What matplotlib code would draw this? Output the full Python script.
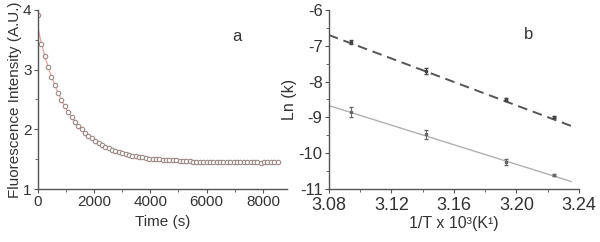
import matplotlib
matplotlib.use("Agg")
import matplotlib.pyplot as plt
from matplotlib.ticker import MultipleLocator

plt.rcParams['font.family'] = ['Liberation Sans', 'DejaVu Sans']
plt.rcParams['axes.unicode_minus'] = False

# ---- Panel a data ----
time_s = [0, 120, 240, 360, 480, 600, 720, 840, 960, 1080, 1200, 1320, 1440, 1560,
          1680, 1800, 1920, 2040, 2160, 2280, 2400, 2520, 2640, 2760, 2880, 3000,
          3120, 3240, 3360, 3480, 3600, 3720, 3840, 3960, 4080, 4200, 4320, 4440,
          4560, 4680, 4800, 4920, 5040, 5160, 5280, 5400, 5520, 5640, 5760, 5880,
          6000, 6120, 6240, 6360, 6480, 6600, 6720, 6840, 6960, 7080, 7200, 7320,
          7440, 7560, 7680, 7800, 7920, 8040, 8160, 8280, 8400, 8520]
intensity = [3.92, 3.43, 3.22, 3.04, 2.88, 2.74, 2.60, 2.49, 2.39, 2.29, 2.21, 2.13,
             2.06, 2.00, 1.94, 1.89, 1.85, 1.81, 1.77, 1.74, 1.71, 1.68, 1.66, 1.64,
             1.62, 1.60, 1.59, 1.57, 1.56, 1.55, 1.54, 1.53, 1.52, 1.51, 1.51, 1.50,
             1.50, 1.49, 1.49, 1.48, 1.48, 1.48, 1.47, 1.47, 1.47, 1.47, 1.46, 1.46,
             1.46, 1.46, 1.46, 1.45, 1.46, 1.45, 1.45, 1.45, 1.45, 1.45, 1.45, 1.45,
             1.45, 1.45, 1.46, 1.45, 1.45, 1.45, 1.44, 1.45, 1.45, 1.45, 1.45, 1.45]
fit_intensity = [3.70, 3.46, 3.24, 3.05, 2.89, 2.75, 2.61, 2.49, 2.39, 2.29, 2.21, 2.13,
                 2.06, 2.00, 1.94, 1.89, 1.85, 1.81, 1.77, 1.74, 1.71, 1.68, 1.66, 1.64,
                 1.62, 1.60, 1.59, 1.57, 1.56, 1.55, 1.54, 1.53, 1.52, 1.51, 1.51, 1.50,
                 1.50, 1.49, 1.49, 1.48, 1.48, 1.48, 1.47, 1.47, 1.47, 1.47, 1.46, 1.46,
                 1.46, 1.46, 1.46, 1.46, 1.46, 1.46, 1.45, 1.45, 1.45, 1.45, 1.45, 1.45,
                 1.45, 1.45, 1.45, 1.45, 1.45, 1.45, 1.45, 1.45, 1.45, 1.45, 1.45, 1.45]

# ---- Panel b data ----
inv_T = [3.094, 3.142, 3.193, 3.224]
ln_k_upper = [-6.89, -7.71, -8.50, -8.99]
ln_k_upper_err = [0.06, 0.08, 0.05, 0.04]
ln_k_lower = [-8.85, -9.47, -10.25, -10.61]
ln_k_lower_err = [0.14, 0.12, 0.09, 0.03]
fit_x = [3.08, 3.235]
fit_upper = [-6.70, -9.24]
fit_lower = [-8.67, -10.79]
xticks_b = [3.08, 3.12, 3.16, 3.20, 3.24]
xticklabels_b = ['3.08', '3.12', '3.16', '3.20', '3.24']

axis_col = '#555555'
text_col = '#333333'

fig = plt.figure(figsize=(6.0, 2.42), dpi=100)
ax1 = fig.add_axes([0.063, 0.219, 0.415, 0.740])
ax2 = fig.add_axes([0.548, 0.219, 0.417, 0.740])

for ax in (ax1, ax2):
    for s in ('top', 'right'):
        ax.spines[s].set_visible(False)
    for s in ('left', 'bottom'):
        ax.spines[s].set_color(axis_col)
        ax.spines[s].set_linewidth(1.0)
    ax.tick_params(which='major', direction='out', length=3, width=0.8,
                   colors=axis_col, labelcolor=text_col, pad=1.5)
    ax.tick_params(which='minor', direction='out', length=2, width=0.6, colors=axis_col)

# Panel a
ax1.plot(time_s, fit_intensity, color='#e8a3a0', lw=0.9, zorder=1)
ax1.plot(time_s, intensity, linestyle='none', marker='o', markersize=3.2,
         markerfacecolor='white', markeredgecolor='#9c8784', markeredgewidth=0.8, zorder=2)
ax1.set_xlim(0, 8850)
ax1.set_ylim(1, 4)
ax1.xaxis.set_major_locator(MultipleLocator(2000))
ax1.xaxis.set_minor_locator(MultipleLocator(1000))
ax1.yaxis.set_major_locator(MultipleLocator(1))
ax1.yaxis.set_minor_locator(MultipleLocator(0.5))
ax1.tick_params(axis='both', which='major', labelsize=11)
ax1.set_xlabel('Time (s)', fontsize=11, color=text_col, labelpad=4)
ax1.set_ylabel('Fluorescence Intensity (A.U.)', fontsize=11, color=text_col, labelpad=1)
ax1.text(0.80, 0.85, 'a', transform=ax1.transAxes, fontsize=12, color=text_col,
         ha='center', va='center')

# Panel b
ax2.plot(fit_x, fit_upper, color='#555555', lw=1.4, linestyle=(0, (5, 3)), zorder=1)
ax2.plot(fit_x, fit_lower, color='#b0b0b0', lw=1.0, zorder=1)
ax2.errorbar(inv_T, ln_k_upper, yerr=ln_k_upper_err, fmt='s', markersize=1.8,
             color='#444444', ecolor='#444444', elinewidth=0.7, capsize=1.5, zorder=2)
ax2.errorbar(inv_T, ln_k_lower, yerr=ln_k_lower_err, fmt='s', markersize=1.8,
             color='#666666', ecolor='#666666', elinewidth=0.7, capsize=1.5, zorder=2)
ax2.set_xlim(3.08, 3.24)
ax2.set_ylim(-11, -6)
ax2.xaxis.set_minor_locator(MultipleLocator(0.02))
ax2.yaxis.set_major_locator(MultipleLocator(1))
ax2.yaxis.set_minor_locator(MultipleLocator(0.5))
ax2.set_xticks(xticks_b)
ax2.set_xticklabels(xticklabels_b)
ax2.tick_params(axis='x', which='major', labelsize=13, pad=2.5)
ax2.tick_params(axis='y', which='major', labelsize=12)
ax2.set_xlabel('1/T x 10³(K¹)', fontsize=11.5, color=text_col, labelpad=1.5)
ax2.set_ylabel('Ln (k)', fontsize=11.5, color=text_col, labelpad=1)
ax2.text(0.80, 0.86, 'b', transform=ax2.transAxes, fontsize=12, color=text_col,
         ha='center', va='center')

fig.savefig('out.png', dpi=100)
